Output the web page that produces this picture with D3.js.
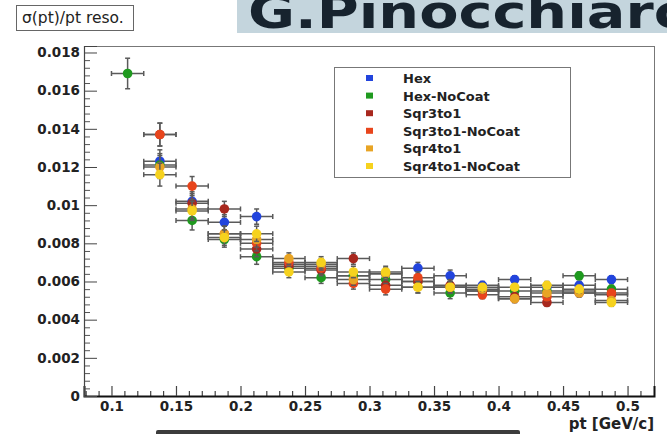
<!DOCTYPE html>
<html>
<head>
<meta charset="utf-8">
<script src="https://cdn.jsdelivr.net/npm/d3@7"></script>
<style>
  html, body { margin: 0; padding: 0; background: #fff; }
  svg { display: block; }
</style>
</head>
<body>
<svg id="chart" width="667" height="434"></svg>
<script>
// ---------- data ----------
const binCenters = [0.1125, 0.1375, 0.1625, 0.1875, 0.2125, 0.2375, 0.2625, 0.2875,
                    0.3125, 0.3375, 0.3625, 0.3875, 0.4125, 0.4375, 0.4625, 0.4875];
const binHalfWidth = 0.0125;
const seriesNames = ["Hex", "Hex-NoCoat", "Sqr3to1", "Sqr3to1-NoCoat", "Sqr4to1", "Sqr4to1-NoCoat"];
const seriesColors = ["#2244dd", "#1f9a1f", "#a8281e", "#e8451c", "#e8a424", "#f6d21e"];
const hex          = [null, 0.0123, 0.0102, 0.0091, 0.0094, 0.0069, 0.0068, 0.0063, 0.0064, 0.0067, 0.0063, 0.0058, 0.0061, 0.0057, 0.0058, 0.0061];
const hexNoCoat    = [0.0169, 0.0121, 0.0092, 0.0082, 0.0073, 0.0067, 0.0062, 0.0063, 0.0061, 0.0060, 0.0054, 0.0055, 0.0055, 0.0055, 0.0063, 0.0056];
const sqr3to1      = [null, 0.0137, 0.0101, 0.0098, 0.0077, 0.0068, 0.0066, 0.0072, 0.0058, 0.0060, 0.0058, 0.0055, 0.0052, 0.0049, 0.0054, 0.0053];
const sqr3to1NoCoat= [null, 0.0137, 0.0110, 0.0085, 0.0080, 0.0070, 0.0067, 0.0059, 0.0056, 0.0062, 0.0057, 0.0053, 0.0051, 0.0052, 0.0055, 0.0054];
const sqr4to1      = [null, 0.0120, 0.0098, 0.0085, 0.0082, 0.0072, 0.0069, 0.0061, 0.0064, 0.0057, 0.0057, 0.0056, 0.0051, 0.0054, 0.0054, 0.0050];
const sqr4to1NoCoat= [null, 0.0116, 0.0097, 0.0083, 0.0085, 0.0065, 0.0070, 0.0065, 0.0065, 0.0057, 0.0057, 0.0057, 0.0057, 0.0058, 0.0056, 0.0049];
const yErrors      = [0.0008, 0.0006, 0.0005, 0.0004, 0.0004, 0.0003, 0.0003, 0.0003, 0.0003, 0.0003, 0.0003, 0.0002, 0.0002, 0.0002, 0.0002, 0.0002];
const xTickLabels = [0.1, 0.15, 0.2, 0.25, 0.3, 0.35, 0.4, 0.45, 0.5];
const yTickLabels = [0, 0.002, 0.004, 0.006, 0.008, 0.01, 0.012, 0.014, 0.016, 0.018];
const titleText = "σ(pt)/pt reso.";
const xAxisTitle = "pt [GeV/c]";
const bannerText = "G.Pinocchiaro";

const allSeries = [hex, hexNoCoat, sqr3to1, sqr3to1NoCoat, sqr4to1, sqr4to1NoCoat];

// ---------- layout ----------
const svg = d3.select("#chart");
const frame = { left: 84, right: 654, top: 46, bottom: 396 };
const x = d3.scaleLinear().domain([0.0787, 0.5205]).range([frame.left, frame.right]);
const y = d3.scaleLinear().domain([0, 0.01834]).range([frame.bottom, frame.top]);
const FONT = "'DejaVu Sans', Verdana, sans-serif";

// banner (top right)
svg.append("rect").attr("x", 237).attr("y", 0).attr("width", 430).attr("height", 33).attr("fill", "#c4d5dd");
svg.append("text").attr("x", 248).attr("y", 28)
  .attr("font-family", FONT).attr("font-weight", "bold").attr("font-size", 46)
  .attr("textLength", 445).attr("lengthAdjust", "spacingAndGlyphs")
  .attr("fill", "#17232e").text(bannerText);
svg.append("rect").attr("x", 237).attr("y", 33).attr("width", 430).attr("height", 12).attr("fill", "#fff");

// title box
svg.append("rect").attr("x", 16.5).attr("y", 5.5).attr("width", 117).attr("height", 25)
  .attr("fill", "#fff").attr("stroke", "#666");
svg.append("text").attr("x", 22).attr("y", 23)
  .attr("font-family", FONT).attr("font-size", 15.5).attr("fill", "#222").text(titleText);

// frame
svg.append("rect").attr("x", frame.left + 0.5).attr("y", frame.top + 0.5)
  .attr("width", frame.right - frame.left).attr("height", frame.bottom - frame.top)
  .attr("fill", "#fff").attr("stroke", "#777");

// x axis: minor ticks
const xMinor = d3.range(8, 53).map(v => v / 100).filter(v => Math.abs(v * 20 - Math.round(v * 20)) > 1e-6 && x(v) > frame.left + 1 && x(v) < frame.right - 1);
svg.append("g").attr("transform", `translate(0,${frame.bottom})`)
  .call(d3.axisBottom(x).tickValues(xMinor).tickSize(-5).tickFormat(""))
  .call(g => g.select(".domain").remove())
  .call(g => g.selectAll("line").attr("stroke", "#444").attr("stroke-width", 1.2));
const xAx = svg.append("g").attr("transform", `translate(0,${frame.bottom})`)
  .call(d3.axisBottom(x).tickValues(xTickLabels).tickSize(-10).tickPadding(5).tickFormat(d => String(d)));
xAx.select(".domain").attr("stroke", "#111").attr("stroke-width", 2);
xAx.selectAll("line").attr("stroke", "#444").attr("stroke-width", 1.2);
xAx.selectAll("text").attr("font-family", FONT).attr("font-weight", "bold").attr("font-size", 13.5).attr("fill", "#222");

// y axis
const yMinor = d3.range(0, 47).map(v => v * 0.0004).filter(v => Math.abs(v / 0.002 - Math.round(v / 0.002)) > 1e-6 && v < 0.0183);
svg.append("g").attr("transform", `translate(${frame.left},0)`)
  .call(d3.axisLeft(y).tickValues(yMinor).tickSize(-6).tickFormat(""))
  .call(g => g.select(".domain").remove())
  .call(g => g.selectAll("line").attr("stroke", "#555"));
const yAx = svg.append("g").attr("transform", `translate(${frame.left},0)`)
  .call(d3.axisLeft(y).tickValues(yTickLabels).tickSize(-13).tickPadding(4).tickFormat(d => d === 0 ? "0" : String(+d.toFixed(3))));
yAx.select(".domain").attr("stroke", "#444").attr("stroke-width", 1.2);
yAx.selectAll("line").attr("stroke", "#444");
yAx.selectAll("text").attr("font-family", FONT).attr("font-weight", "bold").attr("font-size", 13.5).attr("fill", "#222");

// x axis title
svg.append("text").attr("x", frame.right).attr("y", 429).attr("text-anchor", "end")
  .attr("font-family", FONT).attr("font-weight", "bold").attr("font-size", 15).attr("fill", "#222").text(xAxisTitle);

// data points
const plot = svg.append("g");
allSeries.forEach((vals, si) => {
  const pts = binCenters.map((c, i) => ({ c, v: vals[i], e: yErrors[i] })).filter(d => d.v != null);
  const g = plot.append("g");
  const eb = g.append("g").attr("stroke", "#5a5a5a").attr("stroke-width", 1.5);
  pts.forEach(d => {
    const cx = x(d.c), cy = y(d.v);
    const x0 = x(d.c - binHalfWidth), x1 = x(d.c + binHalfWidth);
    const y0 = y(d.v - d.e), y1 = y(d.v + d.e);
    eb.append("line").attr("x1", x0).attr("x2", x1).attr("y1", cy).attr("y2", cy);
    eb.append("line").attr("x1", cx).attr("x2", cx).attr("y1", y0).attr("y2", y1);
    eb.append("line").attr("x1", x0).attr("x2", x0).attr("y1", cy - 2.5).attr("y2", cy + 2.5);
    eb.append("line").attr("x1", x1).attr("x2", x1).attr("y1", cy - 2.5).attr("y2", cy + 2.5);
    eb.append("line").attr("x1", cx - 2.5).attr("x2", cx + 2.5).attr("y1", y0).attr("y2", y0);
    eb.append("line").attr("x1", cx - 2.5).attr("x2", cx + 2.5).attr("y1", y1).attr("y2", y1);
  });
  g.selectAll("circle").data(pts).join("circle")
    .attr("cx", d => x(d.c)).attr("cy", d => y(d.v)).attr("r", 4.8)
    .attr("fill", seriesColors[si]);
});

// legend
const leg = svg.append("g");
leg.append("rect").attr("x", 334.5).attr("y", 67.5).attr("width", 236).attr("height", 110)
  .attr("fill", "#fff").attr("stroke", "#777");
seriesNames.forEach((name, i) => {
  const ry = 78 + i * 17.6;
  leg.append("rect").attr("x", 366).attr("y", ry - 3).attr("width", 7).attr("height", 6).attr("fill", seriesColors[i]);
  leg.append("text").attr("x", 403).attr("y", ry + 5)
    .attr("font-family", FONT).attr("font-weight", "bold").attr("font-size", 13).attr("fill", "#222").text(name);
});

// bottom dark bar
svg.append("rect").attr("x", 156).attr("y", 430).attr("width", 364).attr("height", 8).attr("rx", 2).attr("fill", "#3c3c3c");
</script>
</body>
</html>
